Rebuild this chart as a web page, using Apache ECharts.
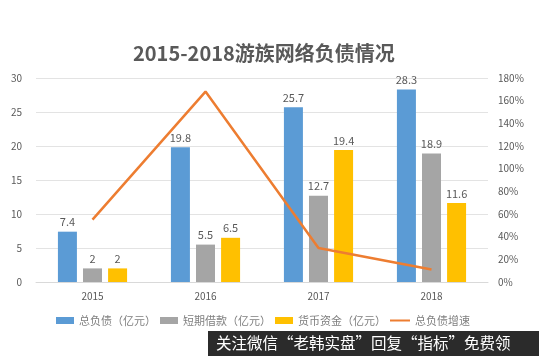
<!DOCTYPE html>
<html><head><meta charset="utf-8">
<script src="https://cdn.jsdelivr.net/npm/echarts@6/dist/echarts.min.js"></script>
<style>html,body{margin:0;padding:0;background:#fff}#c{width:539px;height:356px}</style>
</head><body><div id="c"></div>
<script>
var categories = ['2015','2016','2017','2018'];
var totalDebt = [7.4, 19.8, 25.7, 28.3];
var shortLoan = [2, 5.5, 12.7, 18.9];
var cash = [2, 6.5, 19.4, 11.6];
var growth = [55, 168, 30, 11];
var leftTicks = [0, 30, 5];
var rightTicks = [0, 180, 20];

var ff = '"Noto Sans CJK SC","Noto Sans",sans-serif';
var labelStyle = {show:true, position:'top', color:'#595959', fontSize:11, fontFamily:ff, distance:4};
var legText = {color:'#7f7f7f', fontSize:11, fontFamily:ff};
var chart = echarts.init(document.getElementById('c'));
chart.setOption({
  animation:false,
  title:{text:'2015-2018游族网络负债情况', left:128, top:38,
    textStyle:{fontSize:20, fontWeight:'bold', color:'#595959', fontFamily:ff}},
  grid:{left:36, right:51, top:78, bottom:74},
  legend:[
    {top:315, left:56, padding:0, itemWidth:18, itemHeight:7, itemGap:4, textStyle:legText,
     data:[{name:'总负债（亿元）',icon:'rect'},{name:'短期借款（亿元）',icon:'rect'},{name:'货币资金（亿元）',icon:'rect'}]},
    {top:315, left:390, padding:0, itemWidth:20, itemHeight:2, textStyle:legText,
     data:[{name:'总负债增速',icon:'rect'}]}
  ],
  xAxis:{type:'category', data:categories,
    axisLine:{lineStyle:{color:'#d9d9d9'}}, axisTick:{show:false},
    axisLabel:{color:'#595959', fontSize:10, fontFamily:ff, margin:9}},
  yAxis:[
    {type:'value', min:leftTicks[0], max:leftTicks[1], interval:leftTicks[2],
     axisLine:{show:false}, axisTick:{show:false},
     axisLabel:{color:'#595959', fontSize:10, fontFamily:ff, margin:14},
     splitLine:{lineStyle:{color:'#e3e3e3'}}},
    {type:'value', min:rightTicks[0], max:rightTicks[1], interval:rightTicks[2],
     axisLine:{show:false}, axisTick:{show:false}, splitLine:{show:false},
     axisLabel:{color:'#595959', fontSize:10, fontFamily:ff, margin:10, formatter:'{value}%'}}
  ],
  series:[
    {name:'总负债（亿元）', type:'bar', data:totalDebt, barWidth:19, barGap:'32%',
     itemStyle:{color:'#5B9BD5'}, label:labelStyle},
    {name:'短期借款（亿元）', type:'bar', data:shortLoan, barWidth:19,
     itemStyle:{color:'#A5A5A5'}, label:labelStyle},
    {name:'货币资金（亿元）', type:'bar', data:cash, barWidth:19,
     itemStyle:{color:'#FFC000'}, label:labelStyle},
    {name:'总负债增速', type:'line', yAxisIndex:1, data:growth, symbol:'none',
     lineStyle:{color:'#ED7D31', width:2.5}, itemStyle:{color:'#ED7D31'}}
  ],
  graphic:[
    {type:'rect', left:208, top:331, shape:{width:331, height:25}, style:{fill:'#2b2b2b'}},
    {type:'text', left:216, top:335, style:{text:'关注微信“老韩实盘”回复“指标”免费领', fill:'#ffffff', fontSize:15.5, fontFamily:ff}}
  ]
});
</script></body></html>
